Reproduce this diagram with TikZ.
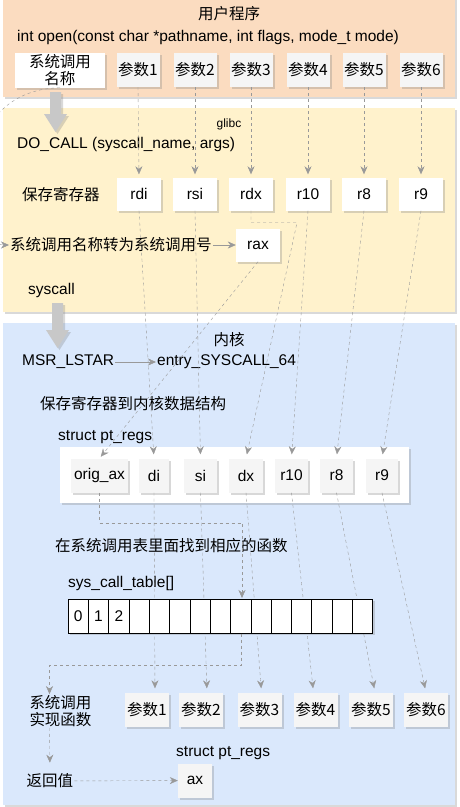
\documentclass[tikz,border=0pt]{standalone}
\usepackage{fontspec}
\setmainfont{Liberation Sans}
\newfontfamily\cjk{Noto Sans CJK SC}
\usepackage{tikz}
\usetikzlibrary{arrows.meta,shadows}
\usetikzlibrary{positioning}
\definecolor{userfill}{HTML}{FBDCC0}
\definecolor{glibcfill}{HTML}{FFF2CC}
\definecolor{kernelfill}{HTML}{DAE8FC}
\definecolor{boxgray}{HTML}{F5F5F5}
\definecolor{bigarrowgray}{HTML}{C8C8C8}

\begin{document}
\begin{tikzpicture}[x=1pt,y=1pt,yscale=-1,xscale=1,
  every node/.style={font=\fontsize{15.5}{17}\selectfont}]
  \useasboundingbox (0,0) rectangle (459,807);
  \tikzstyle{withshadow} = [drop shadow={shadow xshift=2pt,shadow yshift=-2pt,opacity=.3}]
  \tikzstyle{txt} = [inner sep=1pt]
  \tikzstyle{cjktxt} = [font=\fontsize{15.5}{17}\selectfont\cjk]
  \tikzstyle{whitebox} = [fill=white,minimum width=44,minimum height=33,inner sep=0,withshadow]
  \tikzstyle{graybox} = [fill=boxgray,minimum width=43,minimum height=34,inner sep=0,withshadow]
  \tikzstyle{cellbox} = [draw=black,fill=white,line width=1pt,minimum width=20.33,minimum height=34,inner sep=0,withshadow]
  \tikzstyle{link} = [draw=gray!80,dash pattern=on 3pt off 3pt,-{Stealth[length=8pt,width=7pt]}]
  \tikzstyle{flow} = [draw=gray!80,-{Stealth[length=8pt,width=7pt]}]
  %Draw the three layers
  \fill[userfill,withshadow] (3,-10) rectangle (455,97);
  \fill[glibcfill,withshadow] (3,108) rectangle (455,312);
  \fill[kernelfill,withshadow] (3,323) rectangle (455,805);

  % User program
  \node[cjktxt] (user) at (229,14) {用户程序};
  \node[txt,anchor=west] (proto) at (16,37) {int open(const char *pathname, int flags, mode\_t mode)};
  \node[whitebox,cjktxt,minimum width=90,minimum height=35,align=center] (sysname) at (60,70) {系统调用\\名称};
  \foreach \i/\x in {1/138,2/195,3/251,4/308,5/364,6/421}
    \node[graybox,cjktxt] (p\i) at (\x,70) {参数\i};

  % glibc
  \node[font=\fontsize{12}{14}\selectfont] (glibc) at (229,124) {glibc};
  \node[txt,anchor=west] (docall) at (16,144) {DO\_CALL (syscall\_name, args)};
  \node[txt,cjktxt,anchor=west] (savereg) at (21,195) {保存寄存器};
  \foreach \r/\x in {rdi/139,rsi/195,rdx/251,r10/308,r8/364,r9/421}
    \node[whitebox] (\r) at (\x,194) {\r};
  \foreach \i/\r in {1/rdi,2/rsi,3/rdx,4/r10,5/r8,6/r9}
    \draw[link,shorten >=3pt] (p\i.south) -- (\r.north);
  \node[txt,cjktxt,anchor=west] (convert) at (9,245) {系统调用名称转为系统调用号};
  \node[whitebox] (rax) at (258,245) {rax};
  \draw[flow] (convert) -- (rax);
  \draw[link] (sysname.south) .. controls (-50,90) and (-40,245) .. (convert.west);
  \node[txt,anchor=west] (syscall) at (27,290) {syscall};

  % Draw the big arrows
  \fill[bigarrowgray,withshadow] (50,92) -- (61,92) -- (61,114) -- (67,114) -- (55.5,132) -- (44,114) -- (50,114) -- cycle;
  \fill[bigarrowgray,withshadow] (52,303) -- (63,303) -- (63,330) -- (69,330) -- (57.5,348) -- (46,330) -- (52,330) -- cycle;

  % Kernel
  \node[cjktxt] (kernel) at (229,340) {内核};
  \node[txt,anchor=west] (msr) at (21,362) {MSR\_LSTAR};
  \node[txt,anchor=west] (entry) at (156,362) {entry\_SYSCALL\_64};
  \draw[flow] (msr) -- (entry);
  \node[txt,cjktxt,anchor=west] (savekern) at (39,404) {保存寄存器到内核数据结构};
  \node[txt,anchor=west] (ptregs) at (57,437) {struct pt\_regs};
  \fill[white,withshadow] (60,447) rectangle (409,503);
  \foreach \r/\t/\x/\w in {ptorig/orig\_ax/99.5/57,ptdi/di/154/30,ptsi/si/200.5/33,ptdx/dx/246/34,ptr10/r10/291.5/33,ptr8/r8/336.5/33,ptr9/r9/382/32}
    \node[graybox,minimum width=\w] (\r) at (\x,475.5) {\t};
  \foreach \a/\b in {rdi/ptdi,rsi/ptsi,r10/ptr10,r8/ptr8,r9/ptr9}
    \draw[link,shorten >=4pt] (\a.south) -- (\b.north);
  \draw[link,shorten >=4pt] (rdx.south) -- ++(0,12) -- ++(46,0) -- (ptdx.north);
  \draw[link,shorten >=2pt] (rax.south) -- (ptorig.north);

  % Lookup in the table
  \node[txt,cjktxt,anchor=west] (findfn) at (54,546) {在系统调用表里面找到相应的函数};
  \node[txt,anchor=west] (tablename) at (67,583) {sys\_call\_table[]};
  \node[txt,cjktxt,align=center] (implfn) at (60.5,711) {系统调用\\实现函数};
  \foreach \i/\x in {1/147,2/201,3/259.5,4/315.5,5/371,6/426}
    \node[graybox,cjktxt,minimum width=44] (b\i) at (\x,709.5) {参数\i};
  \foreach \a/\b/\s in {ptdi/b1/8,ptsi/b2/6,ptdx/b3/2,ptr10/b4/-2,ptr8/b5/4,ptr9/b6/0}
    \draw[link,shorten >=4pt] (\a.south) -- ([xshift=\s]\b.north);
  \draw[link] (ptorig.south) -- ++(0,30) -| (242,598);
  \foreach \i in {0,...,14}
    \node[cellbox] (c\i) at (78.2+\i*20.33,616) {\ifnum\i<3 \i\fi};
  \draw[link] (c8.south) -- ++(0,32) -| ([xshift=-11]implfn.north);

  % Return value
  \node[txt,cjktxt] (retval) at (50,781) {返回值};
  \draw[link,shorten >=10pt] ([xshift=-11]implfn.south) -- (retval.north);
  \node[txt,anchor=west] (ptregs2) at (175,753) {struct pt\_regs};
  \node[graybox,minimum width=34,minimum height=34] (ax) at (195,780.5) {ax};
  \draw[link] (retval) -- (ax);
\end{tikzpicture}
\end{document}
